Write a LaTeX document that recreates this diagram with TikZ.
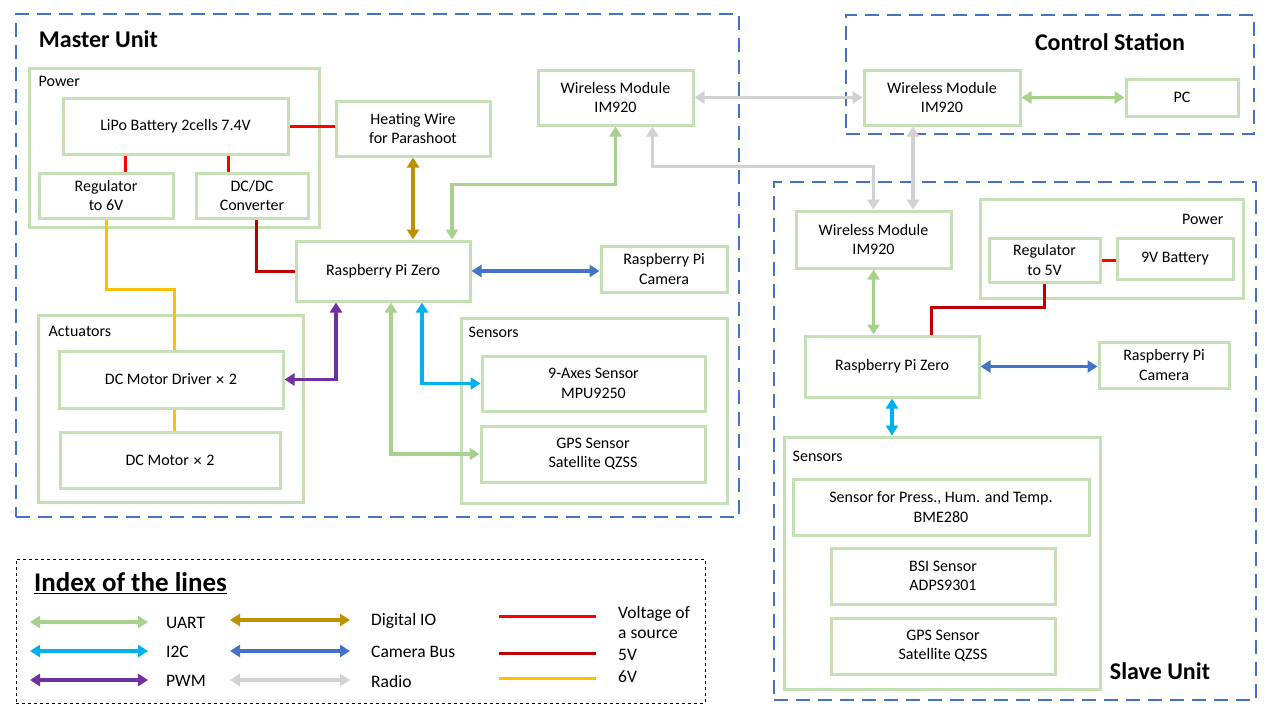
\documentclass[tikz,border=0pt]{standalone}
\usepackage{fontspec}
\setmainfont{Carlito}
\newfontfamily\symfont{DejaVu Sans}
\usetikzlibrary{arrows.meta,positioning}
\definecolor{BoxGreen}{RGB}{197,224,180}
\definecolor{UnitBlue}{RGB}{68,114,196}
\definecolor{LineUART}{RGB}{169,209,142}
\definecolor{LineIIC}{RGB}{0,176,240}
\definecolor{LinePWM}{RGB}{112,48,160}
\definecolor{LineDIO}{RGB}{191,144,0}
\definecolor{LineCam}{RGB}{68,114,196}
\definecolor{LineRadio}{RGB}{210,210,210}
\definecolor{LineSrc}{RGB}{255,0,0}
\definecolor{LineFive}{RGB}{192,0,0}
\definecolor{LineSix}{RGB}{255,192,0}
\newcommand{\timesmark}{{\symfont\fontsize{12}{19}\selectfont ✕}}

\begin{document}
\begin{tikzpicture}[x=1pt,y=-1pt,font=\fontsize{16}{19.5}\selectfont,
  blk/.style n args={2}{draw=BoxGreen,line width=3pt,minimum width=#1,minimum height=#2,align=center,inner sep=0pt},
  unitbox/.style n args={2}{draw=UnitBlue,line width=2.5pt,dash pattern=on 14pt off 8pt,minimum width=#1,minimum height=#2,inner sep=0pt},
  unittitle/.style={font=\fontsize{24}{28}\selectfont\bfseries,inner sep=0pt},
  grptitle/.style={inner sep=0pt},
  lgtext/.style={font=\fontsize{17.5}{20}\selectfont,inner sep=0pt,align=left,anchor=west},
  link/.style={line width=3.5pt,{Triangle[width=12pt,length=10pt]}-{Triangle[width=12pt,length=10pt]}},
  uart/.style={link,LineUART},
  iic/.style={link,LineIIC},
  pwm/.style={link,LinePWM},
  dio/.style={link,LineDIO},
  cam/.style={link,LineCam},
  radio/.style={link,LineRadio},
  src/.style={line width=3pt,LineSrc},
  five/.style={line width=3pt,LineFive},
  six/.style={line width=3pt,LineSix}]
\useasboundingbox (0,0) rectangle (1280,720);

% units
\node[unitbox={723}{503}] (master) at (377.5,265.5) {};
\node[unitbox={408}{119}] (ctrl) at (1050,74.5) {};
\node[unitbox={482}{518}] (slave) at (1015,441) {};
\node[draw,dashed,line width=1pt,minimum width=689,minimum height=144,inner sep=0pt] (index) at (360.5,631) {};
\node[unittitle,below right=18pt and 24pt of master.north west] (mastertitle) {Master Unit};
\node[unittitle] (ctrltitle) at (1110,42) {Control Station};
\node[unittitle] (slavetitle) at (1160,671) {Slave Unit};

% master unit
\node[blk={290}{159}] (mpower) at (174,147.5) {};
\node[grptitle,below right=10pt and 11pt of mpower.north west] {Power};
\node[blk={225}{56}] (lipo) at (175.5,126) {LiPo Battery 2cells 7.4V};
\node[blk={134}{45}] (reg6) at (106,195.5) {Regulator\\to 6V};
\node[blk={112}{45}] (dcdc) at (252,195.5) {DC/DC\\Converter};
\node[blk={154}{55}] (heat) at (413,128.5) {Heating Wire\\for Parashoot};
\node[blk={155}{55}] (mwl) at (615.5,97.5) {Wireless Module\\IM920};
\node[blk={174}{60}] (mrpi) at (383,271) {Raspberry Pi Zero};
\node[blk={126}{46}] (mcam) at (664,269) {Raspberry Pi\\Camera};
\node[blk={265}{187}] (mact) at (170.5,408.5) {};
\node[grptitle,below right=13pt and 12pt of mact.north west] {Actuators};
\node[blk={224}{57}] (drv) at (171,379.5) {DC Motor Driver \timesmark\ 2};
\node[blk={220}{56}] (motor) at (170,460) {DC Motor \timesmark\ 2};
\node[blk={266}{185}] (msens) at (594,410.5) {};
\node[grptitle,below right=10pt and 9pt of msens.north west] {Sensors};
\node[blk={223}{55}] (imu) at (593.5,383.5) {9-Axes Sensor\\MPU9250};
\node[blk={224}{56}] (mgps) at (593,454) {GPS Sensor\\Satellite QZSS};

% control station
\node[blk={156}{55}] (cwl) at (942,97.5) {Wireless Module\\IM920};
\node[blk={112}{37}] (pc) at (1182,97.5) {PC};

% slave unit
\node[blk={155}{57}] (swl) at (873.5,239.5) {Wireless Module\\IM920};
\node[blk={263}{99}] (spower) at (1111.5,248.5) {};
\node[grptitle,below left=17pt and 21pt of spower.north east] {Power};
\node[blk={111}{44}] (reg5) at (1044.5,260) {Regulator\\to 5V};
\node[blk={116}{41}] (bat9) at (1175,258.5) {9V Battery};
\node[blk={174}{61}] (srpi) at (892,366.5) {Raspberry Pi Zero};
\node[blk={130}{46}] (scam) at (1164,365) {Raspberry Pi\\Camera};
\node[blk={316}{252}] (ssens) at (942,563) {};
\node[grptitle,below right=15pt and 10pt of ssens.north west] {Sensors};
\node[blk={296}{56}] (bme) at (941,507) {Sensor for Press., Hum. and Temp.\\BME280};
\node[blk={224}{56}] (bsi) at (943,576) {BSI Sensor\\ADPS9301};
\node[blk={224}{56}] (sgps) at (943,646) {GPS Sensor\\Satellite QZSS};

% power lines
\draw[src] (lipo.east) -- (lipo.east -| heat.west);
\draw[src] ([xshift=19pt]reg6.north) -- ([xshift=19pt]reg6.north |- lipo.south);
\draw[src] ([xshift=-24pt]dcdc.north) -- ([xshift=-24pt]dcdc.north |- lipo.south);
\draw[five] ([xshift=4pt]dcdc.south) |- (mrpi.west);
\draw[six] (reg6.south) -- ++(0,70) -| ([xshift=3pt]drv.north);
\draw[six] ([xshift=3pt]drv.south) -- ([xshift=3pt]drv.south |- motor.north);
\draw[src] (reg5.east) -- (reg5.east -| bat9.west);
\draw[five] (reg5.south) -- ++(0,24) -| ([xshift=39pt]srpi.north);

% signal lines
\draw[dio] (heat.south) -- (heat.south |- mrpi.north);
\draw[uart] ([xshift=69pt]mrpi.north) |- ([yshift=-58pt]mwl.south) -- (mwl.south);
\draw[cam] (mrpi.east) -- (mrpi.east -| mcam.west);
\draw[pwm] ([xshift=-47pt]mrpi.south) |- (drv.east);
\draw[uart] ([xshift=8pt]mrpi.south) |- (mgps.west);
\draw[iic] ([xshift=39pt]mrpi.south) |- (imu.west);
\draw[radio] (mwl.east) -- (cwl.west);
\draw[radio] ([xshift=37pt]mwl.south) |- ([yshift=43pt]swl.north) -- (swl.north);
\draw[radio] ([xshift=-29pt]cwl.south) -- ([xshift=-29pt]cwl.south |- swl.north);
\draw[uart] (cwl.east) -- (pc.west);
\draw[uart] (swl.south) -- (swl.south |- srpi.north);
\draw[cam] (srpi.east) -- (srpi.east -| scam.west);
\draw[iic] (srpi.south) -- (srpi.south |- ssens.north);

% index of the lines
\node[unittitle,font=\fontsize{27}{30}\selectfont\bfseries,anchor=west] (indextitle) at (34,583) {\underline{Index of the lines}};
\foreach \sty/\txt/\y [count=\i] in {uart/UART/622,iic/I2C/651,pwm/PWM/680} {
  \draw[\sty] (30,\y) -- (148,\y);
  \node[lgtext] (lga\i) at (166,\y+1) {\txt};
}
\foreach \sty/\txt/\y [count=\i] in {dio/Digital IO/620,cam/Camera Bus/651,radio/Radio/680} {
  \draw[\sty] (230,\y) -- (350,\y);
  \node[lgtext] (lgb\i) at (371,\y+1) {\txt};
}
\foreach \sty/\txt/\y/\ty [count=\i] in {src/{Voltage of\\a source}/616/622,five/5V/653/655,six/6V/678/677} {
  \draw[\sty] (499,\y) -- (596,\y);
  \node[lgtext] (lgc\i) at (618,\ty) {\txt};
}
\end{tikzpicture}
\end{document}
